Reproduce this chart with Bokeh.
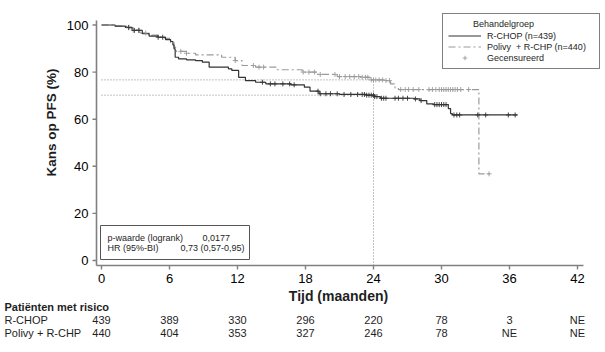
import math
from bokeh.plotting import figure
from bokeh.models import Range1d, Label, BoxAnnotation, Legend, LegendItem
from bokeh.core.properties import value
from bokeh.embed import file_html
from bokeh.resources import INLINE
import numpy as np

FONT = "Liberation Sans"

# ---------------- data ----------------
month_ticks = [0, 6, 12, 18, 24, 30, 36, 42]
pfs_ticks = [0, 20, 40, 60, 80, 100]

rchop_t = [0, 1.2, 2.1, 2.7, 3.6, 4.2, 5.0, 5.65, 6.1, 6.3, 6.4, 6.5, 6.8, 7.5, 8.3, 8.9, 9.5,
           11.2, 11.5, 12.1, 12.7, 13.6, 14.5, 16.7, 17.9, 18.4, 19.2, 21.0, 23.4, 24.1, 24.6,
           27.6, 28.1, 28.7, 29.3, 30.6, 30.8, 30.95, 36.7]
rchop_s = [100, 99.5, 99.0, 97.7, 96.3, 95.3, 94.8, 93.8, 93.0, 91.5, 89.9, 86.3, 85.6, 85.2, 84.9, 84.2, 82.1,
           81.4, 80.7, 77.8, 76.4, 75.7, 75.0, 74.6, 73.6, 71.9, 70.8, 70.5, 70.2, 69.6, 68.9,
           68.6, 67.9, 66.5, 66.2, 64.5, 62.4, 61.8, 61.8]

polivy_t = [0, 1.2, 2.2, 2.8, 3.4, 4.2, 5.0, 5.6, 6.1, 6.4, 6.6, 7.5, 8.3, 10.6, 11.8, 12.4,
            13.6, 15.5, 17.7, 19.0, 20.8, 22.9, 23.7, 24.9, 25.5, 25.9, 26.2, 33.3, 34.2]
polivy_s = [100, 99.5, 98.8, 97.8, 96.6, 95.7, 95.0, 94.3, 92.5, 90.5, 88.8, 88.0, 87.3, 86.3, 84.9, 82.8,
            82.1, 81.0, 80.0, 79.0, 78.1, 77.8, 76.7, 76.4, 75.0, 73.3, 72.6, 36.8, 36.8]

rchop_cens = [2.4, 2.9, 3.3, 5.0, 5.4, 14.2, 14.9, 15.3, 16.0, 16.6, 17.0, 19.1, 19.3, 19.8, 20.2,
              20.8, 21.4, 22.0, 22.6, 23.0, 23.2, 23.4, 23.6, 23.8, 24.0, 24.1, 24.3, 24.7, 24.9,
              25.1, 25.9, 26.2, 26.6, 27.0, 27.7, 28.2, 29.4, 29.6, 29.8, 30.0, 30.2, 30.4,
              31.1, 31.35, 31.6, 33.2, 33.9, 35.9, 36.5]
polivy_cens = [2.4, 2.8, 3.3, 3.9, 7.0, 7.5, 11.8, 13.4, 13.9, 14.3, 17.8, 18.3, 18.8, 19.3, 20.6,
               21.0, 21.5, 21.9, 22.3, 22.7, 23.0, 23.3, 23.5, 23.8, 24.0, 24.2, 24.5, 24.8, 25.1,
               25.4, 26.4, 26.8, 27.1, 27.5, 28.0, 28.9, 29.2, 29.5, 29.8, 30.0, 30.2, 30.4, 30.6,
               30.8, 31.0, 31.2, 31.4, 31.7, 32.4, 34.2]

landmark_month = 24
landmark_pfs = [76.7, 70.2]  # Polivy, R-CHOP at 24 months

risk_rchop = ["439", "389", "330", "296", "220", "78", "3", "NE"]
risk_polivy = ["440", "404", "353", "327", "246", "78", "NE", "NE"]

C_R = "#333333"
C_P = "#9a9a9a"
C_AX = "#808080"
C_TXT = "#1e1e1e"

# ---------------- layout (pixels) ----------------
W, H = 605, 352
PX0, PPX = 101.0, 476.0 / 42     # pixel of month 0, pixels per month
PY0, PPY = 260.0, 2.355          # pixel of 0 %, pixels per %


def dx(px):
    return px / PPX


def dy(px):
    return px / PPY


def py(pix):  # canvas pixel row -> y data
    return (PY0 - pix) / PPY


def surv_at(ts, ss, c):
    i = np.searchsorted(np.array(ts), c, side="right") - 1
    return [ss[k] for k in i]


p = figure(width=W, height=H, x_range=Range1d(-PX0 / PPX, (W - PX0) / PPX),
           y_range=Range1d(-(H - PY0) / PPY, PY0 / PPY),
           output_backend="svg", toolbar_location=None, x_axis_location=None, y_axis_location=None,
           min_border=0)
p.outline_line_color = None
p.grid.visible = False
p.background_fill_color = "white"
p.border_fill_color = "white"

# ---------------- axes ----------------
AXX = -dx(5)   # y-axis line position
AXY = -dy(5)   # x-axis line position
p.segment(x0=[AXX], y0=[AXY], x1=[month_ticks[-1] + dx(6)], y1=[AXY], line_color=C_AX, line_width=1.6)
p.segment(x0=[AXX], y0=[AXY], x1=[AXX], y1=[pfs_ticks[-1] + dy(4.5)], line_color=C_AX, line_width=1.6)
p.segment(x0=month_ticks, y0=[AXY] * len(month_ticks), x1=month_ticks, y1=[AXY - dy(4)] * len(month_ticks),
          line_color=C_AX, line_width=1.4)
p.segment(x0=[AXX] * len(pfs_ticks), y0=pfs_ticks, x1=[AXX - dx(4)] * len(pfs_ticks), y1=pfs_ticks,
          line_color=C_AX, line_width=1.4)
p.text(x=month_ticks, y=[AXY - dy(13)] * len(month_ticks), text=[str(t) for t in month_ticks],
       text_align="center", text_baseline="middle", text_font=value(FONT), text_font_size=value("13px"),
       text_color="black")
p.text(x=[AXX - dx(8)] * len(pfs_ticks), y=pfs_ticks, text=[str(t) for t in pfs_ticks],
       text_align="right", text_baseline="middle", text_font=value(FONT), text_font_size=value("13px"),
       text_color="black")
p.add_layout(Label(x=338, y=H - 295.5, x_units="screen", y_units="screen", text="Tijd (maanden)",
                   text_font=FONT, text_font_size="14px", text_font_style="bold", text_align="center",
                   text_baseline="middle", text_color=C_TXT))
p.add_layout(Label(x=51, y=H - 122, x_units="screen", y_units="screen", text="Kans op PFS (%)",
                   angle=math.pi / 2, text_font=FONT, text_font_size="13.5px", text_font_style="bold",
                   text_align="center", text_baseline="middle", text_color=C_TXT))

# ---------------- landmark reference lines ----------------
p.segment(x0=[0, 0], y0=landmark_pfs, x1=[landmark_month] * 2, y1=landmark_pfs,
          line_color="#888888", line_dash="1 2", line_width=1)
p.segment(x0=[landmark_month], y0=[AXY], x1=[landmark_month], y1=[max(landmark_pfs)],
          line_color="#888888", line_dash="1 2", line_width=1)

# ---------------- curves ----------------
lp = p.step(polivy_t, polivy_s, mode="after", line_color=C_P, line_width=1.2, line_dash="7 3 2 3")
lr = p.step(rchop_t, rchop_s, mode="after", line_color=C_R, line_width=1.2)
cp = p.scatter(polivy_cens, surv_at(polivy_t, polivy_s, polivy_cens), marker="cross", size=5,
               line_color=C_P, line_width=0.9)
cr = p.scatter(rchop_cens, surv_at(rchop_t, rchop_s, rchop_cens), marker="cross", size=5,
               line_color=C_R, line_width=0.9)

# ---------------- legend ----------------
legend = Legend(items=[LegendItem(label="R-CHOP (n=439)", renderers=[lr]),
                       LegendItem(label="Polivy  + R-CHP (n=440)", renderers=[lp]),
                       LegendItem(label="Gecensureerd", renderers=[cp])],
                location=(442, H - 69), title="\u00a0" * 10 + "Behandelgroep")
legend.label_text_font = FONT
legend.label_text_font_size = "9px"
legend.label_text_color = C_TXT
legend.title_text_font = FONT
legend.title_text_font_size = "9px"
legend.title_text_font_style = "normal"
legend.title_text_color = C_TXT
legend.title_standoff = 1
legend.label_height = 11
legend.glyph_height = 11
legend.glyph_width = 33
legend.label_width = 107
legend.label_standoff = 6
legend.spacing = 0
legend.padding = 5
legend.margin = 0
legend.border_line_color = "black"
legend.border_line_width = 1
legend.background_fill_color = "white"
legend.background_fill_alpha = 1
p.add_layout(legend)

# ---------------- stats box ----------------
p.add_layout(BoxAnnotation(left=100, right=249, bottom=H - 259, top=H - 225, left_units="screen",
                           right_units="screen", bottom_units="screen", top_units="screen",
                           fill_color="white", fill_alpha=1, line_color="#555555", line_width=1,
                           line_alpha=1))


def lab(text, x, y, align="left", size="9px", style="normal"):
    p.add_layout(Label(x=x, y=H - y, x_units="screen", y_units="screen", text=text, text_font=FONT,
                       text_font_size=size, text_font_style=style, text_align=align,
                       text_baseline="middle", text_color=C_TXT))


lab("p-waarde (logrank)", 107, 237)
lab("0,0177", 202, 237)
lab("HR (95%-BI)", 107, 247.5)
lab("0,73 (0,57-0,95)", 180, 247.5)

# ---------------- number at risk ----------------
lab("Patiënten met risico", 4, 306, size="11px", style="bold")
lab("R-CHOP", 4, 319.5, size="11px")
lab("Polivy + R-CHP", 4, 332, size="11px")
n = len(month_ticks)
p.text(x=month_ticks, y=[py(319.5)] * n, text=risk_rchop, text_align="center", text_baseline="middle",
       text_font=value(FONT), text_font_size=value("11px"), text_color=C_TXT)
p.text(x=month_ticks, y=[py(332)] * n, text=risk_polivy, text_align="center", text_baseline="middle",
       text_font=value(FONT), text_font_size=value("11px"), text_color=C_TXT)

open("out.html", "w").write(file_html(p, INLINE))
